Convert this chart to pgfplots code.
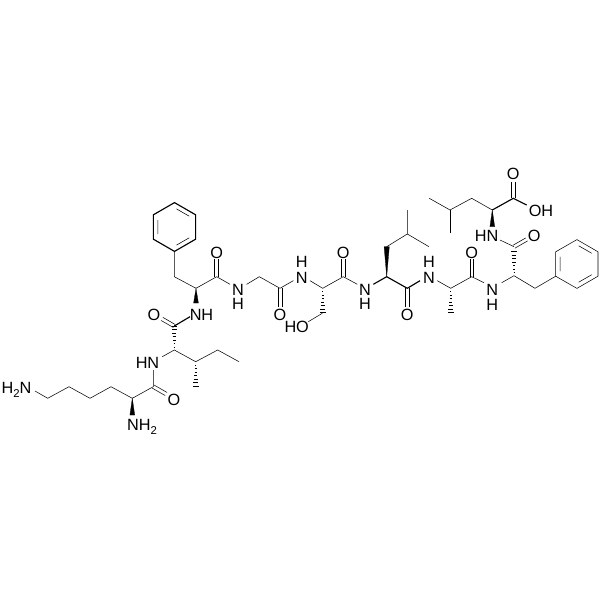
\documentclass[border=0pt]{standalone}
\usepackage{pgfplots}
\pgfplotsset{compat=1.18}
\usepackage{fontspec}
\setmainfont{Liberation Sans}
\newcommand{\lbl}[3]{\node[anchor=base,inner sep=0pt,font=\fontsize{12.2pt}{14pt}\selectfont] at (axis cs:#1,#2+6) {#3};}
\newcommand{\sub}[1]{\raisebox{-0.28em}{\fontsize{8.5pt}{9pt}\selectfont #1}}
\begin{document}
\begin{tikzpicture}[x=1pt,y=1pt]
\path[use as bounding box] (0,0) rectangle (450,450);
\begin{axis}[at={(0,0)},anchor=south west,scale only axis,width=450pt,height=450pt,
  xmin=0,xmax=600,ymin=0,ymax=600,y dir=reverse,hide axis,clip=false,
  unbounded coords=jump,
  cycle list={{black,solid,line width=0.85pt,no markers,line join=round,line cap=round}}]
% --- backbone and side chains
\addplot coordinates {(35,391)(47.7,398.3)(69,386.7)(90,398.3)(111,386.7)(132.3,398.3)(153.3,386.7)(153.3,370)};
\addplot coordinates {(162.3,356.7)(174.3,350)(195.7,361.7)(217.7,350)(239,361.7)};
\addplot coordinates {(174.3,326)(190,316.7)};
\addplot coordinates {(196,288.3)(174.3,276.7)(174.3,251.4)};
\addplot coordinates {(196,288.3)(216.7,276.7)(230,284.3)};
\addplot coordinates {(246.7,284.3)(259.3,276.7)(280,288.3)(293.3,280.7)};
\addplot coordinates {(310,280.7)(322.7,288.3)(343.3,276.7)(357.3,284.3)};
\addplot coordinates {(308.3,321.7)(322.3,313.3)};
\addplot coordinates {(373.3,284.3)(386.7,276.7)(407.3,288.3)(420,280.7)};
\addplot coordinates {(386.7,246.7)(407.3,234)(407.3,210)};
\addplot coordinates {(407.3,234)(429,246.7)};
\addplot coordinates {(437.3,280.7)(450.7,288.3)(471.7,276.7)(484,282.7)};
\addplot coordinates {(501.7,282.7)(514,275.7)(535,288.3)(555.7,276.2)};
\addplot coordinates {(514,246.7)(500,240)};
\addplot coordinates {(492.3,210)(513.3,198.3)(526.7,205)};
\addplot coordinates {(492.3,210)(471.7,198.3)(450,210)(429.3,198.3)};
\addplot coordinates {(450,210)(450,233.3)};
% --- carbonyl double bonds
\addplot coordinates {(154.2,385.1)(166.9,392.4) (nan,nan) (152.4,388.2)(165.1,395.5)};
\addplot coordinates {(175.2,324.5)(162.9,317.4) (nan,nan) (173.4,327.5)(161.1,320.5)};
\addplot coordinates {(514.9,248.2)(527.6,240.9) (nan,nan) (513.1,245.2)(525.8,237.9)};
\addplot coordinates {(214.9,276.7)(214.9,259.3) (nan,nan) (218.5,276.7)(218.5,259.3)};
\addplot coordinates {(278.2,288.3)(278.2,306.7) (nan,nan) (281.8,288.3)(281.8,306.7)};
\addplot coordinates {(341.5,276.7)(341.5,259.3) (nan,nan) (345.1,276.7)(345.1,259.3)};
\addplot coordinates {(405.5,288.3)(405.5,306.7) (nan,nan) (409.1,288.3)(409.1,306.7)};
\addplot coordinates {(469.9,276.7)(469.9,259.3) (nan,nan) (473.5,276.7)(473.5,259.3)};
\addplot coordinates {(511.5,198.3)(511.5,181.7) (nan,nan) (515.1,198.3)(515.1,181.7)};
% --- benzene rings
\addplot coordinates {(174.5,202.6)(195.6,214.8)(195.6,239.2)(174.5,251.4)(153.4,239.2)(153.4,214.8)(174.5,202.6)};
\addplot coordinates {(157.8,220)(157.8,234) (nan,nan) (176.5,208.9)(189.2,216.2) (nan,nan) (189.2,237.8)(176.5,245.1)};
\addplot coordinates {(576.9,239.6)(598,251.8)(598,276.2)(576.9,288.4)(555.7,276.2)(555.7,251.8)(576.9,239.6)};
\addplot coordinates {(560.2,257)(560.2,271) (nan,nan) (578.9,245.9)(591.6,253.2) (nan,nan) (591.6,274.8)(578.9,282.1)};
% --- wedge bonds
\addplot[fill=black,line width=0.2pt] coordinates {(132.3,398.3)(129.9,415)(134.7,415)} -- cycle;
\addplot[fill=black,line width=0.2pt] coordinates {(196,288.3)(193.6,303)(198.4,303)} -- cycle;
\addplot[fill=black,line width=0.2pt] coordinates {(386.7,276.7)(384.1,246.7)(389.3,246.7)} -- cycle;
\addplot[fill=black,line width=0.2pt] coordinates {(492.3,210)(489.9,226.7)(494.7,226.7)} -- cycle;
% --- hashed bonds
\addplot[black,line width=0.7pt,line cap=butt] coordinates {(173.9,347)(174.7,347)(nan,nan)(173.5,343.5)(175.1,343.5)(nan,nan)(173.1,340)(175.5,340)(nan,nan)(172.7,336.5)(175.9,336.5)(nan,nan)(172.3,333)(176.3,333)(nan,nan)(171.9,329.5)(176.7,329.5)(nan,nan)(171.5,326.5)(177.1,326.5)};
\addplot[black,line width=0.7pt,line cap=butt] coordinates {(195.3,365)(196.1,365)(nan,nan)(194.9,368.5)(196.5,368.5)(nan,nan)(194.5,372)(196.9,372)(nan,nan)(194.1,375.5)(197.3,375.5)(nan,nan)(193.7,379)(197.7,379)(nan,nan)(193.3,382.5)(198.1,382.5)(nan,nan)(192.9,386)(198.5,386)};
\addplot[black,line width=0.7pt,line cap=butt] coordinates {(322.3,291.5)(323.1,291.5)(nan,nan)(321.9,295)(323.5,295)(nan,nan)(321.5,298.5)(323.9,298.5)(nan,nan)(321.1,302)(324.3,302)(nan,nan)(320.7,305.5)(324.7,305.5)(nan,nan)(320.3,309)(325.1,309)(nan,nan)(319.9,312)(325.5,312)};
\addplot[black,line width=0.7pt,line cap=butt] coordinates {(450.3,291.5)(451.1,291.5)(nan,nan)(449.9,295)(451.5,295)(nan,nan)(449.5,298.5)(451.9,298.5)(nan,nan)(449.1,302)(452.3,302)(nan,nan)(448.7,305.5)(452.7,305.5)(nan,nan)(448.3,309)(453.1,309)(nan,nan)(447.9,312)(453.5,312)};
\addplot[black,line width=0.7pt,line cap=butt] coordinates {(513.6,272.5)(514.4,272.5)(nan,nan)(513.2,269)(514.8,269)(nan,nan)(512.8,265.5)(515.2,265.5)(nan,nan)(512.4,262)(515.6,262)(nan,nan)(512,258.5)(516,258.5)(nan,nan)(511.6,255)(516.4,255)(nan,nan)(511.2,251.5)(516.8,251.5)};
% --- atom labels
\lbl{16.5}{387}{H\sub{2}N}
\lbl{142}{424}{NH\sub{2}}
\lbl{174}{399.5}{O}
\lbl{147.5}{362}{HN}
\lbl{154}{314}{O}
\lbl{201.5}{314}{NH}
\lbl{216.7}{252.3}{O}
\lbl{238}{289}{N}
\lbl{238}{303.5}{H}
\lbl{280}{314}{O}
\lbl{301.7}{261}{H}
\lbl{301.7}{277}{N}
\lbl{296.7}{326}{HO}
\lbl{343.3}{252.3}{O}
\lbl{365}{289}{N}
\lbl{365}{303.5}{H}
\lbl{407.3}{314}{O}
\lbl{429}{261}{H}
\lbl{429}{277}{N}
\lbl{471.7}{252.3}{O}
\lbl{492.3}{289.3}{N}
\lbl{492.3}{304}{H}
\lbl{534.3}{235}{O}
\lbl{486.5}{235}{HN}
\lbl{513.3}{174}{O}
\lbl{541}{210}{OH}
\end{axis}
\end{tikzpicture}
\end{document}
